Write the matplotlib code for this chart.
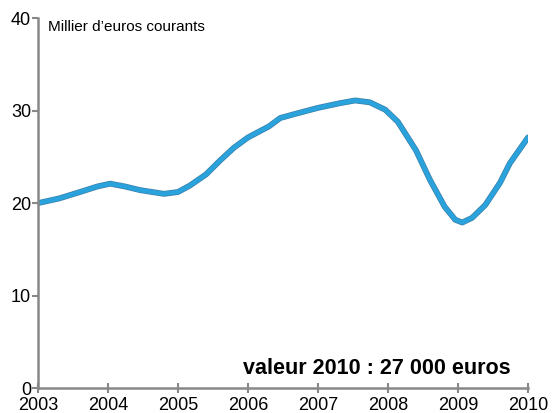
import matplotlib.pyplot as plt
import matplotlib.patheffects as pe

plt.rcParams['font.family'] = ['Liberation Sans', 'DejaVu Sans']

# lecture approximative de la courbe (année, millier d'euros)
years = [2003.0, 2003.3, 2003.6, 2003.85, 2004.03, 2004.24, 2004.46, 2004.8,
         2005.0, 2005.17, 2005.4, 2005.6, 2005.8, 2006.0, 2006.3, 2006.46,
         2006.7, 2007.0, 2007.31, 2007.53, 2007.74, 2007.96, 2008.14, 2008.4,
         2008.6, 2008.81, 2008.96, 2009.06, 2009.2, 2009.39, 2009.6, 2009.74,
         2010.0]
values = [20.0, 20.5, 21.2, 21.8, 22.1, 21.8, 21.4, 21.0,
          21.2, 21.9, 23.1, 24.6, 26.0, 27.1, 28.3, 29.2,
          29.7, 30.3, 30.8, 31.1, 30.9, 30.1, 28.8, 25.7,
          22.5, 19.6, 18.2, 17.9, 18.4, 19.8, 22.2, 24.3,
          27.1]
xticks = [2003, 2004, 2005, 2006, 2007, 2008, 2009, 2010]
yticks = [0, 10, 20, 30, 40]

fig = plt.figure(figsize=(5.54, 4.13), dpi=100)
ax = fig.add_axes([0.0686, 0.0605, 0.8845, 0.8955])

ax.plot(years, values, color='#2aa3dd', lw=3.2, solid_joinstyle='round',
        solid_capstyle='round',
        path_effects=[pe.Stroke(linewidth=4.2, foreground='#3a7fa8'), pe.Normal()])

ax.set_xlim(2003, 2010)
ax.set_ylim(0, 40)
ax.set_xticks(xticks)
ax.set_yticks(yticks)
ax.tick_params(labelsize=13, colors='#888888', labelcolor='black', width=1.5)
ax.tick_params(axis='x', direction='inout', length=7, pad=3)
ax.tick_params(axis='y', length=4, pad=1)

for s in ['top', 'right']:
    ax.spines[s].set_visible(False)
for s in ['left', 'bottom']:
    ax.spines[s].set_color('#888888')
    ax.spines[s].set_linewidth(1.8)

ax.text(0.02, 0.975, 'Millier d\u2019euros courants', transform=ax.transAxes,
        fontsize=11, va='center', ha='left')
ax.text(0.965, 0.052, 'valeur 2010 : 27 000 euros', transform=ax.transAxes,
        fontsize=15.5, fontweight='bold', va='center', ha='right')

fig.savefig('out.png', dpi=100)
